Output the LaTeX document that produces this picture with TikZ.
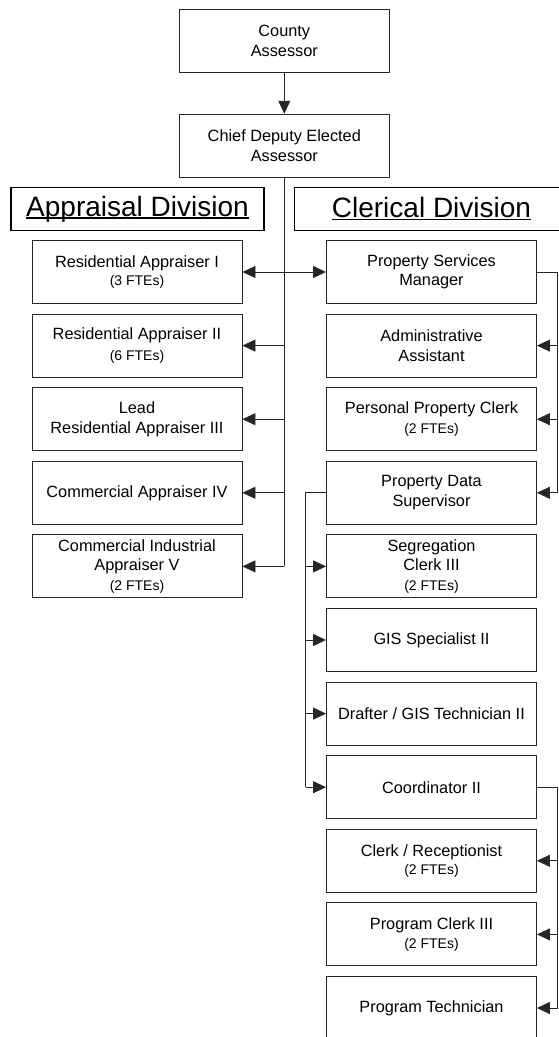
\documentclass[tikz,border=0pt]{standalone}
\usepackage{fontspec}
\setmainfont{Liberation Sans}
\usetikzlibrary{arrows.meta}
\newcommand\ftes[1]{{\fontsize{14}{17}\selectfont(#1 FTEs)}}
% underline drawn just under the baseline, crossing the descenders
\newcommand\headrule[1]{{\setbox0\hbox{#1}\rlap{\rule[-2.6pt]{\wd0}{1.5pt}}\box0}}
\begin{document}
\begin{tikzpicture}[x=1pt,y=-1pt,
  post/.style={draw=black!85, line width=0.9pt, minimum width=210pt,
    minimum height=63pt, inner sep=0pt, align=center, text=black,
    font=\fontsize{16.3}{19.5}\selectfont},
  division/.style={draw=black, line width=1.5pt, minimum height=42.6pt,
    inner sep=0pt, text=black, font=\fontsize{28}{32}\selectfont},
  link/.style={draw=black!85, line width=0.9pt},
  tip/.style={link, -{Triangle[length=13pt,width=12pt]}},
  both/.style={link, {Triangle[length=13pt,width=12pt]}-{Triangle[length=13pt,width=12pt]}},
]
\clip (0,0) rectangle (559,1037);

% top of the chart
\node[post] (county) at (284.3,40.8) {County\\Assessor};
\node[post] (chief) at (284.3,145.7) {Chief Deputy Elected\\Assessor};

% division headings
\node[division, minimum width=253pt] (appr) at (137.5,209) {\headrule{Appraisal Division}};
\node[division, minimum width=274.4pt] (cler) at (431.5,209) {\headrule{Clerical Division}};

% appraisal division
\node[post] (a1) at (137,272.0) {Residential Appraiser I\\[-2pt]\ftes{3}};
\node[post] (a2) at (137,345.6) {Residential Appraiser II\\[2pt]\ftes{6}};
\node[post] (a3) at (137,419.2) {Lead\\Residential Appraiser III};
\node[post] (a4) at (137,492.8) {Commercial Appraiser IV};
\node[post] (a5) at (137,566.4) {Commercial Industrial\\Appraiser V\\\ftes{2}};

% clerical division
\node[post] (c1) at (431.5,272.0) {Property Services\\Manager};
\node[post] (c2) at (431.5,345.6) {Administrative\\Assistant};
\node[post] (c3) at (431.5,419.2) {Personal Property Clerk\\\ftes{2}};
\node[post] (c4) at (431.5,492.8) {Property Data\\Supervisor};
\node[post] (c5) at (431.5,566.4) {Segregation\\Clerk III\\\ftes{2}};
\node[post] (c6) at (431.5,640.0) {GIS Specialist II};
\node[post] (c7) at (431.5,713.6) {Drafter / GIS Technician II};
\node[post] (c8) at (431.5,787.2) {Coordinator II};
\node[post] (c9) at (431.5,860.8) {Clerk / Receptionist\\[-1.5pt]\ftes{2}};
\node[post] (c10) at (431.5,934.4) {Program Clerk III\\[-1pt]\ftes{2}};
\node[post] (c11) at (431.5,1008.0) {Program Technician};

% bus lines
\coordinate (busA) at (557.5,0);
\coordinate (busB) at (305.7,0);

\draw[tip] (county) -- (chief);
\draw[link] (chief.south) -- (chief.south |- a5.east);
\draw[both] (a1.east) -- (c1.west);
\foreach \n in {a2,a3,a4,a5}
  \draw[tip] (chief.south |- \n.east) -- (\n.east);

\draw[link] (c1.east) -| (busA |- c4.east);
\foreach \n in {c2,c3,c4}
  \draw[tip] (busA |- \n.east) -- (\n.east);

\draw[link] (c4.west) -| (busB |- c8.west);
\foreach \n in {c5,c6,c7,c8}
  \draw[tip] (busB |- \n.west) -- (\n.west);

\draw[link] (c8.east) -| (busA |- c11.east);
\foreach \n in {c9,c10,c11}
  \draw[tip] (busA |- \n.east) -- (\n.east);
\end{tikzpicture}
\end{document}
